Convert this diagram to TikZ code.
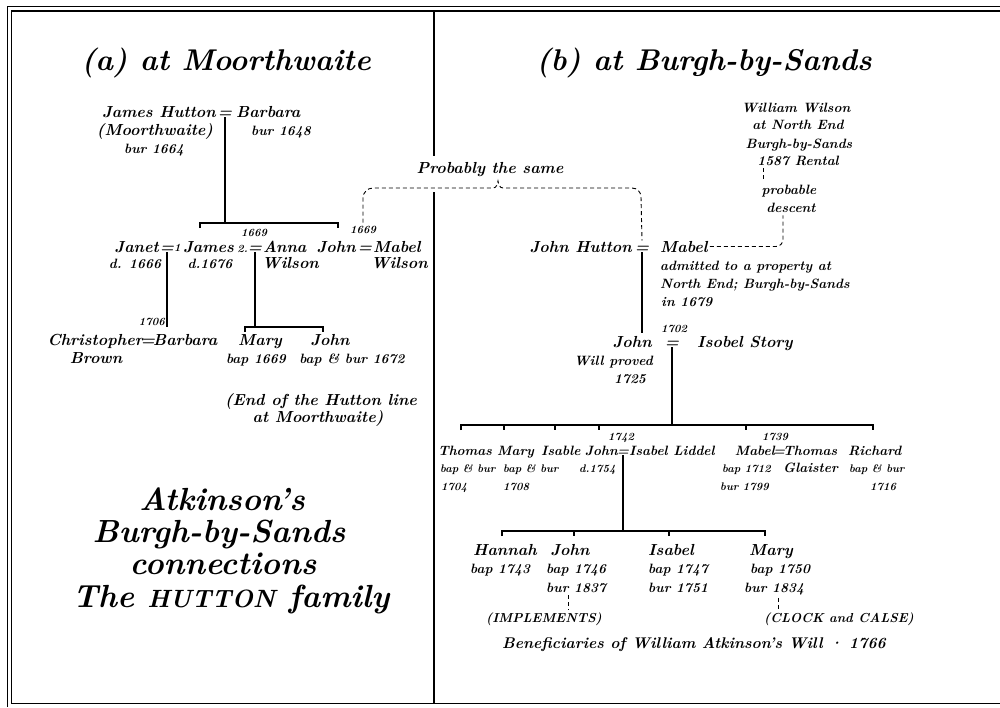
\documentclass[tikz,border=0pt]{standalone}
\usepackage{graphicx}
\begin{document}
\begin{tikzpicture}[x=1pt,y=-1pt,
  t/.style={inner sep=0pt, font=\fontsize{16}{19}\selectfont\bfseries\itshape},
  s/.style={inner sep=0pt, font=\fontsize{13.5}{16}\selectfont\bfseries\itshape},
  r/.style={inner sep=0pt, font=\fontsize{11}{14}\selectfont\bfseries\itshape},
  yr/.style={inner sep=0pt, font=\fontsize{11}{13}\selectfont\bfseries\itshape},
  capsty/.style={inner sep=0pt, font=\fontsize{13}{16}\selectfont\bfseries\itshape},
  big/.style={inner sep=0pt, font=\fontsize{30}{34}\selectfont\bfseries\itshape},
  bigb/.style={inner sep=0pt, font=\fontsize{32}{36}\selectfont\bfseries\itshape},
  bw/.style={anchor=base west}, be/.style={anchor=base east}, bc/.style={anchor=base},
  ln/.style={line width=1.4pt},
  dsh/.style={line width=0.9pt, dash pattern=on 4pt off 3pt}]
\useasboundingbox (0,0) rectangle (1000,707);
% frame
\draw[line width=0.8pt] (7,707) -- (7,6.5) -- (1000,6.5);
\draw[line width=1.8pt] (11.5,703.5) -- (11.5,11) -- (1000,11);
\draw[line width=1.8pt] (11.5,703.5) -- (1000,703.5);
\draw[line width=1.2pt] (434,11) -- (434,156);
\draw[line width=1.2pt] (434,192) -- (434,703.5);

% ---------- left panel ----------
\node[big,bc] (ta) at (226,70) {(a) at Moorthwaite};
\node[t,be] (jh) at (216,117) {James Hutton};
\node[t,bc] (e1) at (225,117) {=};
\node[t,bw] (bb) at (236,117) {Barbara};
\node[t,bc] (jh2) at (155,135) {(Moorthwaite)};
\node[s,bc] (jh3) at (154,153) {bur 1664};
\node[s,bc] (bb2) at (281,135) {bur 1648};
\coordinate (b1l) at (200,223); \coordinate (b1r) at (338,223);
\draw[ln] (e1.south) -- (e1.south |- b1l);
\draw[ln] ([yshift=-5pt]b1l) -- (b1l) -- (b1r) -- ([yshift=-5pt]b1r);

\node[t,be] (jan) at (159,252) {Janet};
\node[t,bc] (e2) at (167,252) {=};
\node[yr,bw] (n1) at (174,251) {1};
\node[t,bw] (jam) at (183,252) {James};
\node[yr,be] (n2) at (248,252) {2.};
\node[t,bc] (e3) at (255,252) {=};
\node[t,bw] (ann) at (263,252) {Anna};
\node[yr,bc] (y1669a) at (254,236) {1669};
\node[t,be] (joh) at (356,252) {John};
\node[t,bc] (e4) at (365,252) {=};
\node[t,bw] (mab1) at (373,252) {Mabel};
\node[yr,bc] (y1669b) at (363,233) {1669};
\node[s,bc] (jan2) at (135,268) {d. 1666};
\node[s,bc] (jam2) at (210,268) {d.1676};
\node[t,bw] (ann2) at (262,268) {Wilson};
\node[t,be] (mab2) at (428,268) {Wilson};

\coordinate (b2l) at (245,327); \coordinate (b2r) at (323,327);
\draw[ln] (e2.south) -- (e2.south |- b2l);
\node[yr,be] (y1706) at (165,325) {1706};
\node[t,be] (chr) at (143,345) {Christopher};
\node[t,bc] (e5) at (148,345) {=};
\node[t,bw] (bar) at (153,345) {Barbara};
\node[t,bc] (bro) at (96,363) {Brown};

\draw[ln] (e3.south) -- (e3.south |- b2l);
\draw[ln] ([yshift=-5pt]b2l) -- (b2l) -- (b2r) -- ([yshift=-5pt]b2r);
\node[t,bc] (mar) at (260,345) {Mary};
\node[s,bc] (mar2) at (256,363) {bap 1669};
\node[t,bc] (jo2) at (330,345) {John};
\node[s,bc] (jo22) at (352,363) {bap \& bur 1672};
\node[t,bc] (end1) at (321,405) {(End of the Hutton line};
\node[t,bc] (end2) at (318,422) {at Moorthwaite)};

\node[bigb,bc] (k1) at (222,510) {Atkinson’s};
\node[bigb,bc] (k2) at (219,542) {Burgh-by-Sands};
\node[bigb,bc] (k3) at (223,574) {connections};
\node[bigb,bc] (k4) at (231,607) {The {\fontsize{25}{28}\selectfont HUTTON} family};

% ---------- probably the same ----------
\node[t,bc] (prb) at (490,173) {Probably the same};
\node[big,bc] (tb) at (704,70) {(b) at Burgh-by-Sands};
\node[t,be] (jhu) at (632,252) {John Hutton};
\node[t,bc] (jhe) at (642,252) {=};
\node[t,bw] (mab) at (660,252) {Mabel};
\draw[dsh] ([yshift=3pt]y1669b.north) -- (363,198) to[out=90,in=180] (373,188)
  -- (493,188) to[out=0,in=-100] (498,181) to[out=-80,in=180] (503,188)
  -- (632,188) to[out=0,in=90] (641,197) -- ([yshift=5pt]jhe.north);

% ---------- right panel ----------
\node[s,bc] (ww1) at (796,112) {William Wilson};
\node[s,bc] (ww2) at (798,129) {at North End};
\node[s,bc] (ww3) at (799,148) {Burgh-by-Sands};
\node[s,bc] (ww4) at (798,165) {1587 Rental};
\node[s,bc] (pr1) at (789,194) {probable};
\node[s,bc] (pr2) at (791,212) {descent};
\coordinate (dxa) at (763,0);
\coordinate (dxb) at (783,0);
\coordinate (dxc) at (776,0);
\draw[dsh] ([yshift=-3pt]ww4.south -| dxa) -- ([yshift=2pt]pr1.north -| dxa);
\draw[dsh] ([xshift=2pt]mab.east) -- (mab.east -| dxc) to[out=0,in=-90] ++(7,-7)
  -- ([yshift=-3pt]pr2.south -| dxb);

\node[s,bw] (adm1) at (660,270) {admitted to a property at};
\node[s,bw] (adm2) at (660,288) {North End; Burgh-by-Sands};
\node[s,bw] (adm3) at (661,306) {in 1679};

\node[t,be] (jn) at (652,347) {John};
\node[t,bc] (jne) at (672,347) {=};
\node[t,bw] (isb) at (697,347) {Isobel Story};
\node[yr,bc] (y1702) at (674,332) {1702};
\node[s,be] (wp1) at (653,365) {Will proved};
\node[s,bc] (wp2) at (630,383) {1725};
\draw[ln] (jhe.south) -- ([yshift=3pt]jhe.south |- jn.north);

\coordinate (b3l) at (461,425); \coordinate (b3r) at (873,425);
\draw[ln] (jne.south) -- (jne.south |- b3l);
\draw[ln] ([yshift=-5pt]b3l) -- (b3l) -- (b3r) -- ([yshift=-5pt]b3r);
\foreach \d in {43,94,138,285} \draw[ln] ([xshift=\d pt]b3l) -- ++(0,5);

\node[s,bc] (th) at (465,455) {Thomas};
\node[s,bw] (my) at (497,455) {Mary};
\node[s,bw] (isa) at (541,455) {Isable};
\node[s,be] (jo3) at (618,455) {John};
\node[s,bc] (e6) at (623,455) {=};
\node[s,bw] (il) at (629,455) {Isabel Liddel};
\node[yr,bc] (y1742) at (621,440) {1742};
\node[s,be] (mb3) at (775,455) {Mabel};
\node[s,bc] (e7) at (779,455) {=};
\node[s,bw] (tg) at (783,455) {Thomas};
\node[yr,bc] (y1739) at (775,440) {1739};
\node[s,bw] (ri) at (848,455) {Richard};

\node[r,bw] (th2) at (440,472) {bap \& bur};
\node[r,bw] (my2) at (503,472) {bap \& bur};
\node[r,bw] (jo32) at (579,472) {d.1754};
\node[r,bw] (mb32) at (722,472) {bap 1712};
\node[s,bw] (tg2) at (783,472) {Glaister};
\node[r,bw] (ri2) at (849,472) {bap \& bur};
\node[r,bw] (th3) at (441,490) {1704};
\node[r,bw] (my3) at (503,490) {1708};
\node[r,bw] (mb33) at (720,490) {bur 1799};
\node[r,bw] (ri3) at (870,490) {1716};

\coordinate (b4l) at (502,531); \coordinate (b4r) at (765,531);
\draw[ln] (e6.south) -- (e6.south |- b4l);
\draw[ln] ([yshift=-5pt]b4l) -- (b4l) -- (b4r) -- ([yshift=-5pt]b4r);
\foreach \d in {72,167} \draw[ln] ([xshift=\d pt]b4l) -- ++(0,5);

\node[t,bw] (ha) at (473,555) {Hannah};
\node[t,bc] (jo4) at (570,555) {John};
\node[t,bc] (is4) at (671,555) {Isabel};
\node[t,bc] (ma4) at (771,555) {Mary};
\node[s,bw] (ha2) at (470,573) {bap 1743};
\node[s,bw] (jo42) at (546,573) {bap 1746};
\node[s,bw] (is42) at (648,573) {bap 1747};
\node[s,bw] (ma42) at (750,573) {bap 1750};
\node[s,bw] (jo43) at (546,592) {bur 1837};
\node[s,bw] (is43) at (648,592) {bur 1751};
\node[s,bw] (ma43) at (744,592) {bur 1834};
\node[capsty,bc] (imp) at (544,622) {(IMPLEMENTS)};
\node[capsty,bc] (clk) at (839,622) {(CLOCK and CALSE)};
\coordinate (dxd) at (568,0); \coordinate (dxe) at (778,0);
\draw[dsh] ([yshift=-3pt]jo43.south -| dxd) -- ([yshift=2pt]imp.north -| dxd);
\draw[dsh] ([yshift=-3pt]ma43.south -| dxe) -- ([yshift=2pt]clk.north -| dxe);
\node[t,bc,font=\fontsize{15.5}{18}\selectfont\bfseries\itshape] (ben) at (694,648) {Beneficiaries of William Atkinson’s Will · 1766};
\end{tikzpicture}
\end{document}
